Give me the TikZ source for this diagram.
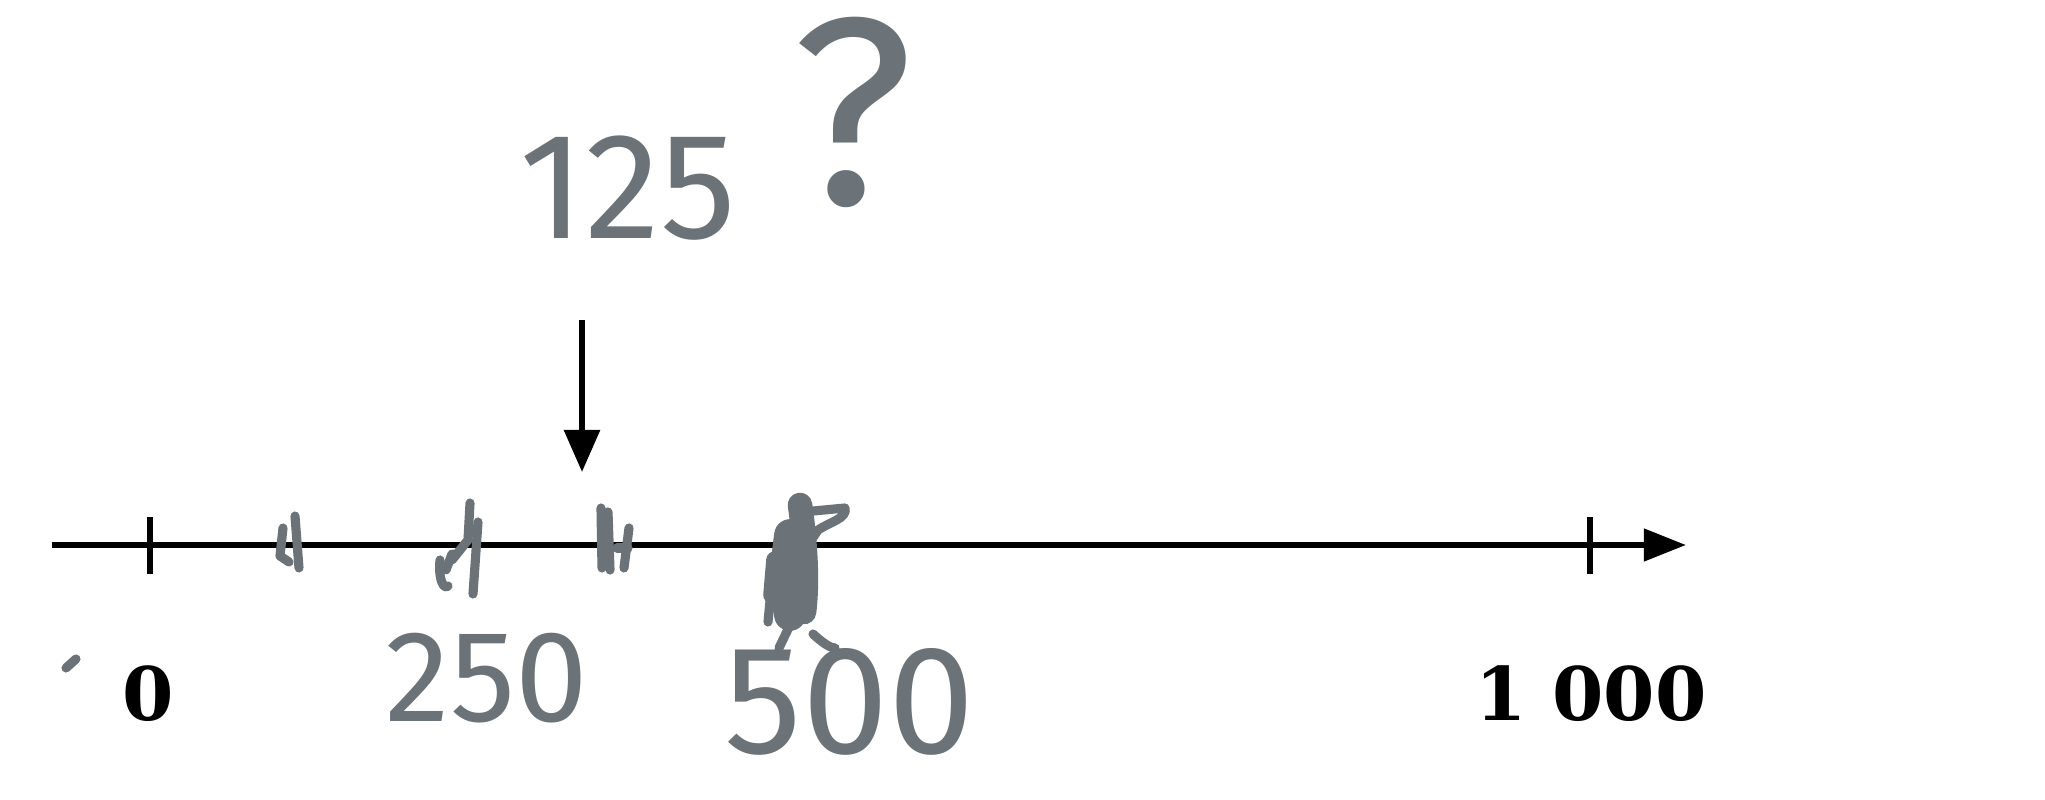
\documentclass[tikz,border=0pt]{standalone}
\usepackage{fontspec}
\newfontfamily\labelfont{DejaVu Serif}
\newfontfamily\handfont{Fira Sans}
\usetikzlibrary{arrows.meta}
\definecolor{ink}{HTML}{6B7278}
\tikzset{
  axisline/.style={line width=1.7pt, black},
  tickmark/.style={line width=1.7pt, black},
  pen/.style={draw=ink, line width=2.6pt, line cap=round, line join=round},
  numlabel/.style={font=\labelfont\bfseries\fontsize{21}{25}\selectfont, text=black, inner sep=0pt},
  handlabel/.style={text=ink, inner sep=0pt},
}
\begin{document}
\begin{tikzpicture}[x=0.01cm, y=0.01cm]
\path[use as bounding box] (0,0) rectangle (2045,800);
% axis
\coordinate (axL) at (52,255);
\coordinate (axR) at (1686,255);
\draw[axisline, -{Triangle[length=12pt,width=9pt]}] (axL) -- (axR);
% ticks
\coordinate (t0a) at (150,283); \coordinate (t0b) at (150,226);
\coordinate (t1a) at (1590,283); \coordinate (t1b) at (1590,226);
\draw[tickmark] (t0a) -- (t0b);
\draw[tickmark] (t1a) -- (t1b);
% printed labels
\node[numlabel] (lab0) at (148,106) {0};
\node[numlabel] (lab1000) at (1591,106) {1 000};
% down arrow
\coordinate (dtop) at (582,480);
\coordinate (dtip) at (582,328);
\draw[axisline, -{Triangle[length=12pt,width=10pt]}] (dtop) -- (dtip);
% handwritten marks on the axis
\draw[pen] (283,272) -- (280,244) -- (289,238);
\draw[pen] (295,284) -- (299,232);
\draw[pen] (440,240) .. controls (438,220) and (444,210) .. (448,214);
\draw[pen] (446,230) -- (452,246);
\draw[pen] (470,297) -- (468,260) -- (452,240);
\draw[pen] (478,278) -- (473,206);
\draw[pen] (601,292) -- (602,232);
\draw[pen] (608,288) -- (610,230);
\draw[pen] (629,272) -- (624,232);
\draw[pen] (617,252) -- (628,252);
% 500 blob
\draw[pen, line width=9pt] (790,265) .. controls (785,230) and (785,210) .. (790,185);
\draw[pen, line width=7pt] (800,295) .. controls (805,260) and (808,220) .. (804,188);
\draw[pen, line width=5pt] (775,240) -- (772,205);
\draw[pen] (768,178) -- (772,220) -- (782,250);
\draw[pen] (780,180) -- (795,225) -- (790,260) -- (802,300);
\draw[pen] (803,288) -- (845,292) .. controls (848,282) and (830,278) .. (818,270) -- (808,255);
\draw[pen] (790,175) -- (779,152);
\draw[pen] (813,166) .. controls (826,154) and (832,152) .. (835,152);
% small stray mark
\draw[pen] (66,132) -- (76,141);
% handwritten numbers
\node[handlabel, font=\handfont\fontsize{43}{47}\selectfont] (h125) at (628,612) {125};
\node[handlabel, font=\handfont\fontsize{76}{84}\selectfont] (hq) at (853,688) {?};
\node[handlabel, font=\handfont\fontsize{37}{41}\selectfont] (h250) at (487,122) {250};
\node[handlabel, font=\handfont\fontsize{44}{48}\selectfont] (h500) at (850,98) {500};
\end{tikzpicture}
\end{document}
